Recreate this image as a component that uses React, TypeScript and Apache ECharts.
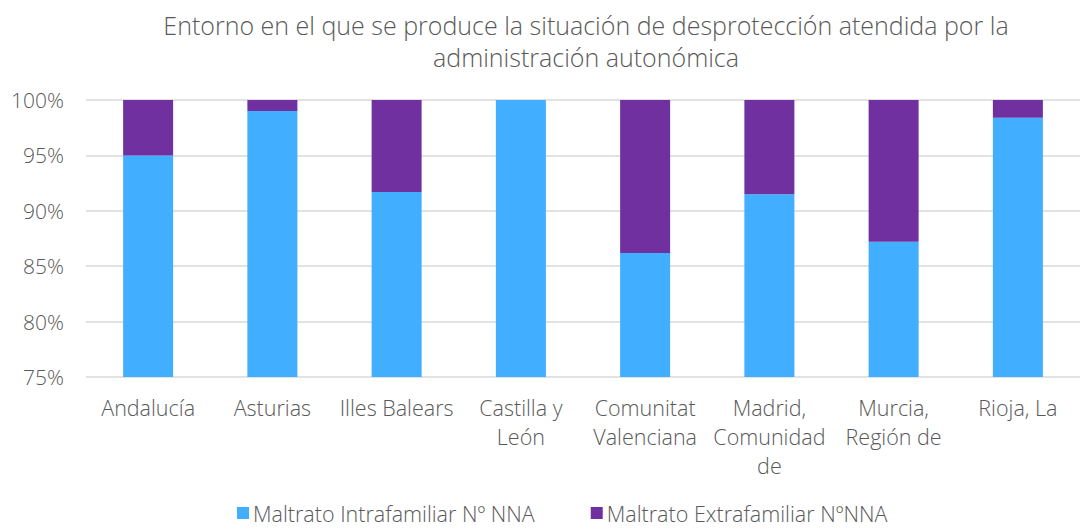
import React, { useEffect, useRef } from "react";
import * as echarts from "echarts";

const categories = [
  "Andalucía",
  "Asturias",
  "Illes Balears",
  "Castilla y\nLeón",
  "Comunitat\nValenciana",
  "Madrid,\nComunidad\nde",
  "Murcia,\nRegión de",
  "Rioja, La",
];
const intraValues = [95.0, 99.0, 91.7, 100, 86.2, 91.5, 87.2, 98.4];
const extraValues = [5.0, 1.0, 8.3, 0, 13.8, 8.5, 12.8, 1.6];
const seriesNames = ["Maltrato Intrafamiliar Nº NNA", "Maltrato Extrafamiliar NºNNA"];
const titleText = "Entorno en el que se produce la situación de desprotección atendida por la\nadministración autonómica";

const FONT = "Open Sans";
const TEXT = "#595959";

export default function App() {
  const ref = useRef<HTMLDivElement>(null);
  useEffect(() => {
    const chart = echarts.init(ref.current!, null, { renderer: "svg" });
    chart.setOption({
      animation: false,
      title: {
        text: titleText,
        left: 581,
        textAlign: "center",
        top: 4,
        textStyle: {
          fontFamily: FONT,
          fontWeight: 300,
          fontSize: 25,
          color: TEXT,
          lineHeight: 32,
        },
      },
      legend: {
        bottom: 0,
        left: 232,
        itemWidth: 12,
        itemHeight: 12,
        itemGap: 56,
        icon: "rect",
        textStyle: { fontFamily: FONT, fontWeight: 300, fontSize: 21.5, color: TEXT, padding: [0, 0, 0, -1] },
      },
      grid: { left: 86, right: 3, top: 100, bottom: 152, containLabel: false },
      xAxis: {
        type: "category",
        data: categories,
        axisLine: { show: false },
        axisTick: { show: false },
        axisLabel: {
          interval: 0,
          margin: 16,
          fontFamily: FONT,
          fontWeight: 300,
          fontSize: 21.5,
          color: TEXT,
          lineHeight: 29,
        },
      },
      yAxis: {
        type: "value",
        min: 75,
        max: 100,
        interval: 5,
        axisLine: { show: false },
        axisTick: { show: false },
        splitLine: { lineStyle: { color: "#D9D9D9", width: 1.5 } },
        axisLabel: {
          formatter: (v: number) => `${v}%`,
          margin: 22,
          fontFamily: FONT,
          fontWeight: 300,
          fontSize: 21,
          color: TEXT,
        },
      },
      series: [
        {
          name: seriesNames[0],
          type: "bar",
          stack: "total",
          data: intraValues,
          barWidth: 50,
          itemStyle: { color: "#41AEFF" },
        },
        {
          name: seriesNames[1],
          type: "bar",
          stack: "total",
          data: extraValues,
          barWidth: 50,
          itemStyle: { color: "#7030A0" },
        },
      ],
    });
    return () => chart.dispose();
  }, []);
  return (
    <div
      ref={ref}
      style={{ position: "fixed", left: 0, top: 0, width: 1083, height: 529, background: "#fff" }}
    />
  );
}
